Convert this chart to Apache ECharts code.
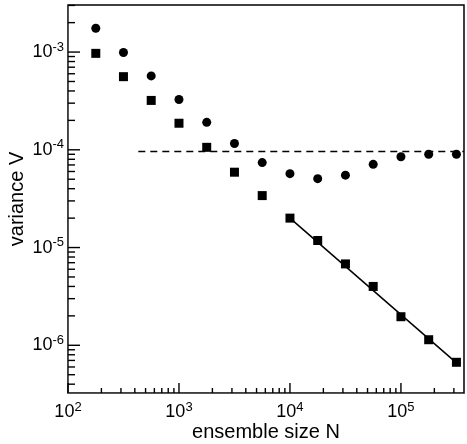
<!DOCTYPE html>
<html>
<head>
<meta charset="utf-8">
<script src="https://cdn.jsdelivr.net/npm/echarts@6/dist/echarts.min.js"></script>
<style>html,body{margin:0;padding:0;background:#fff}#c{width:467px;height:444px}</style>
</head>
<body>
<div id="c"></div>
<script>
// ensemble sizes N
var ensembleN = [178, 316, 562, 1000, 1778, 3162, 5623, 10000, 17783, 31623, 56234, 100000, 177828, 316228];
// squares
var squareV = [9.7e-4, 5.6e-4, 3.2e-4, 1.87e-4, 1.06e-4, 5.9e-5, 3.4e-5, 2.0e-5, 1.18e-5, 6.8e-6, 4.0e-6, 1.96e-6, 1.14e-6, 6.7e-7];
// circles
var circleV = [1.75e-3, 9.9e-4, 5.7e-4, 3.27e-4, 1.91e-4, 1.16e-4, 7.4e-5, 5.7e-5, 5.07e-5, 5.5e-5, 7.1e-5, 8.5e-5, 9.0e-5, 9.0e-5];
// dashed reference level
var dashedN = [430, 370000];
var dashedV = [9.6e-5, 9.6e-5];
// solid fit line
var fitN = [10000, 316228];
var fitV = [2.0e-5, 6.6e-7];
// decade tick values (labelled)
var xMajor = [100, 1000, 10000, 100000];
var yMajor = [1e-6, 1e-5, 1e-4, 1e-3];
// axis titles
var xTitle = 'ensemble size N';
var yTitle = 'variance V';

var xMin = 100, xMax = 370000, yMin = 3.25e-7, yMax = 3.03e-3;

function minors(lo, hi, from, to) {
  var out = [];
  for (var e = from; e <= to; e++) {
    for (var m = 2; m <= 9; m++) {
      var v = m * Math.pow(10, e);
      if (v > lo && v < hi) out.push(v);
    }
  }
  return out;
}
var xMinor = minors(xMin, xMax, 2, 5);
var yMinor = minors(yMin, yMax, -7, -3);

function pair(a, b) { return a.map(function (v, i) { return [v, b[i]]; }); }

// tick data: [x, y, isMajor]
var xTickData = xMajor.map(function (v) { return [v, yMin, 1]; })
  .concat(xMinor.map(function (v) { return [v, yMin, 0]; }));
var yTickData = yMajor.map(function (v) { return [xMin, v, 1]; })
  .concat(yMinor.map(function (v) { return [xMin, v, 0]; }));

function supLabel(v) {
  var e = Math.log10(v);
  var r = Math.round(e);
  if (Math.abs(e - r) > 1e-6) return '';
  return '{b|10}{s|' + r + '}';
}
var font = 'Liberation Sans, Arial, sans-serif';
var rich = {
  b: { fontSize: 18, fontFamily: font, color: '#000' },
  s: { fontSize: 13, fontFamily: font, color: '#000', padding: [0, 0, 10, 0] }
};

function xTickRender(params, api) {
  var p = api.coord([api.value(0), api.value(1)]);
  var len = api.value(2) ? 10 : 5;
  return { type: 'line', shape: { x1: p[0], y1: p[1], x2: p[0], y2: p[1] - len },
           style: { stroke: '#000', lineWidth: 1.4 } };
}
function yTickRender(params, api) {
  var p = api.coord([api.value(0), api.value(1)]);
  var len = api.value(2) ? 12 : 7;
  return { type: 'line', shape: { x1: p[0], y1: p[1], x2: p[0] + len, y2: p[1] },
           style: { stroke: '#000', lineWidth: 1.4 } };
}

var chart = echarts.init(document.getElementById('c'));
chart.setOption({
  animation: false,
  grid: { left: 68, right: 3, top: 5, bottom: 51, show: true, borderColor: '#000', borderWidth: 1.5 },
  xAxis: {
    type: 'log', min: xMin, max: xMax,
    axisTick: { show: false },
    axisLabel: { margin: 8, formatter: supLabel, rich: rich },
    splitLine: { show: false }
  },
  yAxis: {
    type: 'log', min: yMin, max: yMax,
    axisTick: { show: false },
    axisLabel: { margin: 4, formatter: supLabel, rich: rich },
    splitLine: { show: false }
  },
  graphic: [
    { type: 'text', x: 266, y: 432, style: { text: xTitle, font: '20px ' + font, fill: '#000', textAlign: 'center', textVerticalAlign: 'middle' } },
    { type: 'text', x: 17, y: 199, rotation: Math.PI / 2, style: { text: yTitle, font: '20px ' + font, fill: '#000', textAlign: 'center', textVerticalAlign: 'middle' } }
  ],
  series: [
    { type: 'custom', data: xTickData, renderItem: xTickRender, encode: { x: 0, y: 1 }, clip: false, silent: true, z: 2 },
    { type: 'custom', data: yTickData, renderItem: yTickRender, encode: { x: 0, y: 1 }, clip: false, silent: true, z: 2 },
    { type: 'line', data: pair(dashedN, dashedV), symbol: 'none', lineStyle: { color: '#000', width: 1.5, type: [7, 5] }, z: 1 },
    { type: 'line', data: pair(fitN, fitV), symbol: 'none', lineStyle: { color: '#000', width: 1.5 }, z: 1 },
    { type: 'scatter', data: pair(ensembleN, squareV), symbol: 'rect', symbolSize: 9, itemStyle: { color: '#000', opacity: 1 }, z: 3 },
    { type: 'scatter', data: pair(ensembleN, circleV), symbol: 'circle', symbolSize: 9, itemStyle: { color: '#000', opacity: 1 }, z: 3 }
  ]
});
</script>
</body>
</html>
